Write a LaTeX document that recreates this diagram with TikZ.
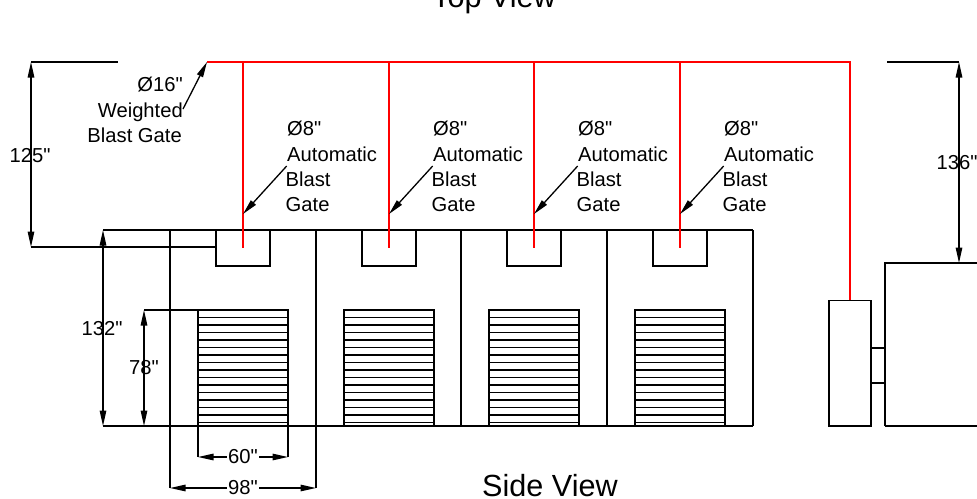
\documentclass[tikz,border=0pt]{standalone}
\usepackage{fontspec}
\setmainfont{Liberation Sans}[Ligatures=TeXOff]
\usetikzlibrary{arrows.meta}
\tikzset{
  ln/.style={line width=1.3pt,black,line cap=butt},
  pipe/.style={line width=1.4pt,red},
  dimline/.style={line width=1.3pt,{Triangle[length=15.5pt,width=6.5pt]}-{Triangle[length=15.5pt,width=6.5pt]}},
  lead/.style={line width=1.3pt,-{Triangle[length=15.5pt,width=6.5pt]}},
  lab/.style={inner sep=0pt,font=\fontsize{20.2}{25}\selectfont,anchor=base west},
  labr/.style={inner sep=0pt,font=\fontsize{20.2}{25}\selectfont,align=right},
  dim/.style={inner sep=0pt,font=\fontsize{20.2}{24}\selectfont},
  dimw/.style={dim,fill=white,inner xsep=1pt},
  title/.style={inner sep=0pt,font=\fontsize{30.6}{34}\selectfont,anchor=base},
}
\begin{document}
\begin{tikzpicture}[x=1pt,y=-1pt]
\useasboundingbox (0,0) rectangle (977,498);
\clip (0,0) rectangle (977,498);
\node[title] (topview) at (494,7.5) {Top View};
\node[title] (sideview) at (550,496) {Side View};
% roof level lines
\coordinate (tl) at (31,62); \coordinate (tle) at (118,62);
\coordinate (rs) at (207,62); \coordinate (re) at (850,62);
\coordinate (tr) at (887,62); \coordinate (trd) at (959,62);
\draw[ln] (tl) -- (tle);
\draw[ln] (tr) -- (trd);
% building
\draw[ln] (103,230) -- (753,230);
\draw[ln] (103,426) -- (753,426);
\draw[ln] (461,230) -- (461,426);
\draw[ln] (607,230) -- (607,426);
\draw[ln] (753,230) -- (753,426);
\draw[ln] (170,230) -- (170,488);
\draw[ln] (316,230) -- (316,488);
% level at pipe drop
\coordinate (pl) at (31,247);
\coordinate (pr) at (216,247);
\draw[ln] (pl) -- (pr);
% gates, doors
\foreach \n/\x in {a/0,b/146,c/291,d/437}{
  \draw[ln,xshift=\x pt] (216,230) rectangle (270,266);
  \draw[ln,xshift=\x pt] (198,310) rectangle (288,426);
  \foreach \k in {1,...,15}{
    \draw[ln,xshift=\x pt] (198,310+7.5*\k) -- (288,310+7.5*\k);
  }
  \coordinate (drop\n) at (243+\x,62);
  \coordinate (end\n) at (243+\x,248);
  \coordinate (ls\n) at (286.7+\x,166);
  \coordinate (le\n) at (243+\x,214);
  \draw[pipe] (drop\n) -- (end\n);
  \draw[lead] (ls\n) -- (le\n);
  \node[lab] (t1\n) at (287+\x,135) {Ø8"};
  \node[lab] (t2\n) at (287+\x,161) {Automatic};
  \node[lab] (t3\n) at (285.5+\x,186) {Blast};
  \node[lab] (t4\n) at (285.5+\x,211) {Gate};
}
% main duct
\coordinate (fan) at (850,300);
\draw[pipe] (rs) -- (re) -- (fan);
% Ø16 label
\node[labr,anchor=base east] (w1) at (183,91) {Ø16"};
\node[labr,anchor=base east] (w2) at (183,117) {Weighted};
\node[labr,anchor=base east] (w3) at (182,142) {Blast Gate};
\coordinate (l16) at (183,109);
\draw[lead] (l16) -- (rs);
% fan + motor
\draw[ln] (829,300.5) rectangle (871,426);
\draw[ln] (885,426) -- (885,263) -- (990,263);
\draw[ln] (885,426) -- (990,426);
\draw[ln] (871,348) -- (885,348);
\draw[ln] (871,383) -- (885,383);
% dims
\coordinate (d125a) at (31,62); \coordinate (d125b) at (31,247);
\draw[dimline] (d125a) -- (d125b);
\node[dim] (n125) at (30,156) {125"};
\coordinate (d132a) at (103,230); \coordinate (d132b) at (103,426);
\draw[dimline] (d132a) -- (d132b);
\node[dim] (n132) at (102,329) {132"};
\coordinate (d78a) at (144,310); \coordinate (d78b) at (144,426);
\draw[ln] (d78a) -- (198,310);
\draw[dimline] (d78a) -- (d78b);
\node[dim] (n78) at (144,368) {78"};
\coordinate (d136a) at (959,62); \coordinate (d136b) at (959,263);
\draw[dimline] (d136a) -- (d136b);
\node[dim] (n136) at (957,163) {136"};
\draw[ln] (198,426) -- (198,457);
\draw[ln] (288,426) -- (288,457);
\coordinate (d60a) at (198,457); \coordinate (d60b) at (288,457);
\draw[dimline] (d60a) -- (d60b);
\node[dimw] (n60) at (243,457) {60"};
\coordinate (d98a) at (170,488); \coordinate (d98b) at (316,488);
\draw[dimline] (d98a) -- (d98b);
\node[dimw] (n98) at (243,488) {98"};
\end{tikzpicture}
\end{document}
